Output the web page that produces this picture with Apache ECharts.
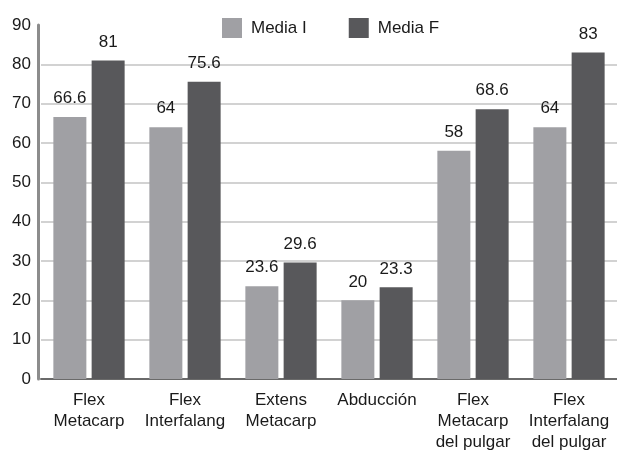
<!DOCTYPE html>
<html>
<head>
<meta charset="utf-8">
<script src="https://cdn.jsdelivr.net/npm/echarts@6/dist/echarts.min.js"></script>
<style>
  html, body { margin: 0; padding: 0; background: #fff; }
  #chart { width: 617px; height: 453px; }
</style>
</head>
<body>
<div id="chart"></div>
<script>
// Movement categories (x axis)
const categories = [
  'Flex\nMetacarp',
  'Flex\nInterfalang',
  'Extens\nMetacarp',
  'Abducción',
  'Flex\nMetacarp\ndel pulgar',
  'Flex\nInterfalang\ndel pulgar'
];
// Initial and final means
const mediaI = [66.6, 64, 23.6, 20, 58, 64];
const mediaF = [81, 75.6, 29.6, 23.3, 68.6, 83];
const seriesNames = ['Media I', 'Media F'];

// Y axis scale
const yMin = 0;
const yMax = 90;
const yStep = 10;

const font = 'Liberation Sans, Arial, sans-serif';
const textColor = '#1a1a1a';
const fontSize = 17;

// Gridline colours: every line visible except the top one (max)
const gridColors = [];
for (let v = yMin; v <= yMax; v += yStep) {
  gridColors.push(v === yMax ? 'rgba(0,0,0,0)' : '#d2d2d2');
}

const labelStyle = {
  show: true,
  position: 'top',
  distance: 10,
  fontFamily: font,
  fontSize: fontSize,
  color: textColor
};

const chart = echarts.init(document.getElementById('chart'), null, { renderer: 'canvas' });
chart.setOption({
  animation: false,
  backgroundColor: '#ffffff',
  textStyle: { fontFamily: font },
  legend: {
    left: 217,
    top: 13,
    itemWidth: 20,
    itemHeight: 20,
    itemGap: 42,
    textStyle: { fontFamily: font, fontSize: fontSize, color: textColor, padding: [0, 0, 0, 4] },
    data: seriesNames.map(n => ({ name: n, icon: 'rect' }))
  },
  grid: {
    left: 41,
    right: -4,
    top: 25,
    bottom: 70
  },
  xAxis: {
    type: 'category',
    data: categories,
    axisLine: { show: true, lineStyle: { color: '#6a6a6a', width: 2 } },
    axisTick: { show: false },
    axisLabel: {
      interval: 0,
      margin: 11,
      fontFamily: font,
      fontSize: fontSize,
      lineHeight: 21,
      color: textColor
    }
  },
  yAxis: {
    type: 'value',
    min: yMin,
    max: yMax,
    interval: yStep,
    offset: 3,
    axisLine: { show: true, lineStyle: { color: '#8c8c8c', width: 3 } },
    axisTick: { show: false },
    axisLabel: {
      margin: 7,
      fontFamily: font,
      fontSize: fontSize,
      color: textColor
    },
    splitLine: { show: true, lineStyle: { color: gridColors, width: 2 } }
  },
  series: [
    {
      name: seriesNames[0],
      type: 'bar',
      data: mediaI,
      barWidth: 33,
      barGap: '16%',
      itemStyle: { color: '#a0a0a4' },
      label: labelStyle
    },
    {
      name: seriesNames[1],
      type: 'bar',
      data: mediaF,
      barWidth: 33,
      itemStyle: { color: '#58585b' },
      label: labelStyle
    }
  ]
});
</script>
</body>
</html>
